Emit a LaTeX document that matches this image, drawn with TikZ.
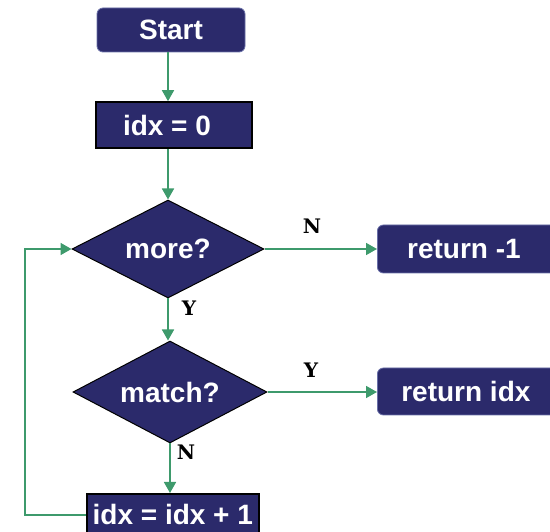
\documentclass[tikz,border=0pt]{standalone}
\usepackage{fontspec}
\setmainfont{Liberation Sans}
\newfontfamily\labfont{DejaVu Serif}
\usetikzlibrary{shapes.geometric,arrows.meta}
\definecolor{navy}{HTML}{2B2A6B}
\definecolor{edgeblue}{HTML}{6A70A8}
\definecolor{flow}{HTML}{3E9A6C}
\tikzset{
  boxtext/.style={text=white,font=\fontsize{28}{30}\selectfont\bfseries},
  roundbox/.style={boxtext,fill=navy,draw=edgeblue,line width=0.8pt,rounded corners=6pt,inner sep=0pt},
  plainbox/.style={boxtext,fill=navy,draw=black,line width=1.6pt,inner sep=0pt},
  decision/.style={boxtext,shape=diamond,aspect=2,fill=navy,draw=black,line width=1pt,inner sep=0pt},
  flowline/.style={draw=flow,line width=1.6pt},
  flowarrow/.style={flowline,-{Triangle[length=11pt,width=12pt]}},
  yn/.style={font=\labfont\fontsize{20}{22}\selectfont\bfseries,text=black,inner sep=0pt}
}
\begin{document}
\begin{tikzpicture}[x=1pt,y=-1pt]
\useasboundingbox (0,0) rectangle (550,532);
\clip (0,0) rectangle (550,532);
\node[roundbox,minimum width=148pt,minimum height=44pt] (start) at (171,30) {Start};
\node[plainbox,minimum width=156pt,minimum height=46pt] (init) at (174,125) {\hspace{-14pt}idx = 0};
\node[decision,minimum width=192pt,minimum height=98pt] (more) at (168,249) {more?};
\node[decision,minimum width=194pt,minimum height=102pt] (match) at (170,392) {match?};
\node[roundbox,minimum width=183pt,minimum height=48pt,anchor=west] (ret1) at (377,249) {\hspace{-10pt}return -1};
\node[roundbox,minimum width=183pt,minimum height=47pt,anchor=west] (retidx) at (377,391.5) {\hspace{-6pt}return idx};
\node[plainbox,minimum width=172pt,minimum height=42pt,anchor=north west] (inc) at (86,493) {idx = idx + 1};
\coordinate (loopx) at (25,0);

\draw[flowarrow] (start.south -| more.north) -- (init.north -| more.north);
\draw[flowarrow] (init.south -| more.north) -- (more.north);
\draw[flowarrow] (more.east) -- (ret1.west |- more.east);
\node[yn] (nlab1) at (312,226) {N};
\draw[flowarrow] (more.south) -- (match.north -| more.south);
\node[yn] (ylab1) at (189,308) {Y};
\draw[flowarrow] (match.east) -- (retidx.west |- match.east);
\node[yn] (ylab2) at (311,370) {Y};
\draw[flowarrow] (match.south) -- (inc.north -| match.south);
\node[yn] (nlab2) at (186,452) {N};
\draw[flowarrow] (inc.west) -- (inc.west -| loopx) -- (more.west -| loopx) -- (more.west);
\end{tikzpicture}
\end{document}
